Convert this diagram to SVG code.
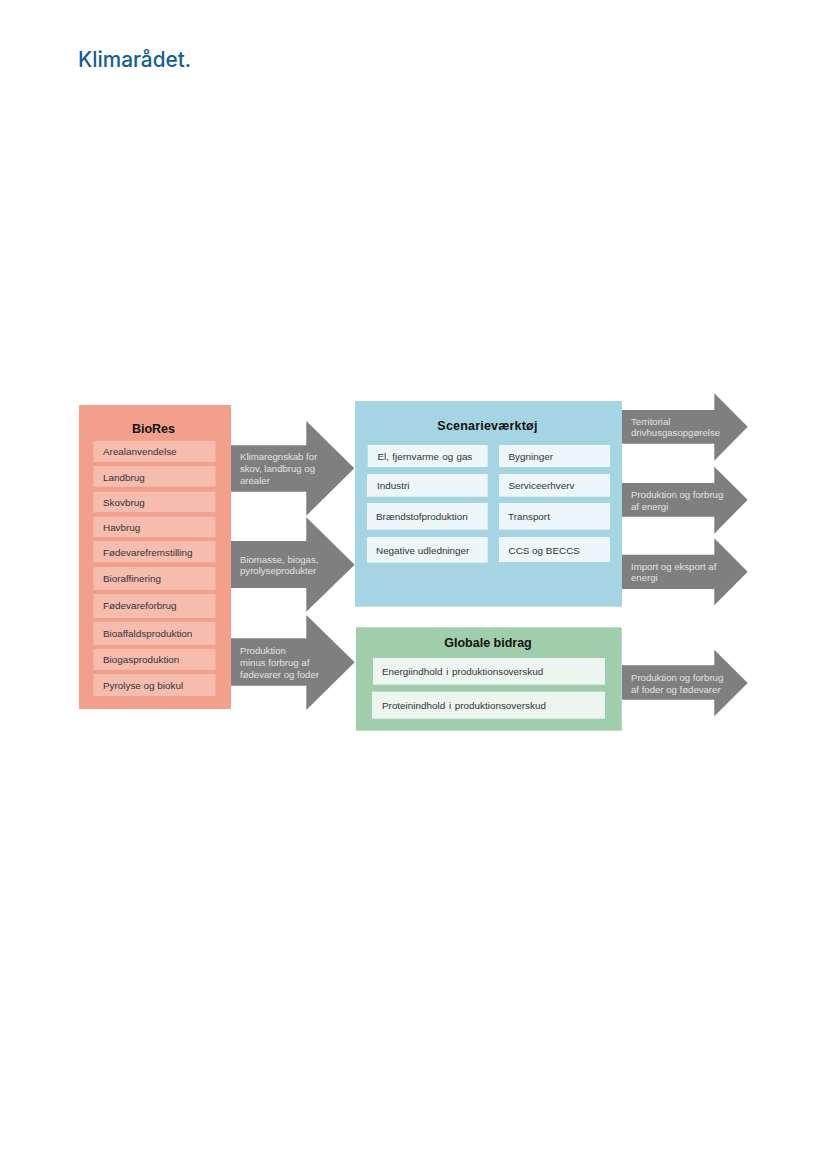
<svg xmlns="http://www.w3.org/2000/svg" width="827" height="1169" viewBox="0 0 827 1169">
<style>
text{font-family:"Liberation Sans",Arial,sans-serif}
.t{font-size:9.9px;fill:#333}
.h{font-size:12.5px;font-weight:700;fill:#111;text-anchor:middle}
.a{font-size:9.6px;fill:#e2e2e2}
.ar{fill:#7f7f7f}
.s{fill:#f6bcae}
.b{fill:#edf6f9}
.g{fill:#ecf5ef}
</style>
<rect width="827" height="1169" fill="#fff"/>
<text id="logo" x="78" y="67" font-size="21" font-weight="500" fill="#0f5f96" style="font-family:Inter,sans-serif" textLength="113" lengthAdjust="spacingAndGlyphs">Klimarådet.</text>
<g id="bio"><rect x="79" y="405" width="152" height="304" fill="#f2a08b"/>
<text class="h" x="153.5" y="433">BioRes</text></g>
<g id="n-areal"><rect class="s" x="93.5" y="441" width="122" height="21"/><text class="t" x="103" y="455">Arealanvendelse</text></g>
<g id="n-land"><rect class="s" x="93.5" y="466" width="122" height="20.7"/><text class="t" x="103" y="480.5">Landbrug</text></g>
<g id="n-skov"><rect class="s" x="93.5" y="491.7" width="122" height="20.6"/><text class="t" x="103" y="505.5">Skovbrug</text></g>
<g id="n-hav"><rect class="s" x="93.5" y="516.7" width="122" height="20.6"/><text class="t" x="103" y="530.5">Havbrug</text></g>
<g id="n-fremst"><rect class="s" x="93.5" y="541" width="122" height="21.3"/><text class="t" x="103" y="555.5">Fødevarefremstilling</text></g>
<g id="n-raff"><rect class="s" x="93.5" y="567" width="122" height="23"/><text class="t" x="103" y="582">Bioraffinering</text></g>
<g id="n-forbrug"><rect class="s" x="93.5" y="594" width="122" height="24"/><text class="t" x="103" y="609">Fødevareforbrug</text></g>
<g id="n-affald"><rect class="s" x="93.5" y="621.7" width="122" height="23.3"/><text class="t" x="103" y="637">Bioaffaldsproduktion</text></g>
<g id="n-biogas"><rect class="s" x="93.5" y="649" width="122" height="21"/><text class="t" x="103" y="663">Biogasproduktion</text></g>
<g id="n-pyro"><rect class="s" x="93.5" y="674" width="122" height="22"/><text class="t" x="103" y="688.5">Pyrolyse og biokul</text></g>

<g id="scen"><rect x="355" y="401" width="267" height="205.7" fill="#a5d5e3"/>
<text class="h" x="487.5" y="430" letter-spacing="0.2">Scenarieværktøj</text></g>
<g id="n-el"><rect class="b" x="367.7" y="445" width="120" height="22"/><text class="t" x="377.5" y="459.5" word-spacing="0.5">El, fjernvarme og gas</text></g>
<g id="n-byg"><rect class="b" x="499" y="445" width="111" height="22"/><text class="t" x="508.5" y="459.5">Bygninger</text></g>
<g id="n-ind"><rect class="b" x="367" y="474" width="120.7" height="22.7"/><text class="t" x="377" y="489">Industri</text></g>
<g id="n-serv"><rect class="b" x="499" y="474" width="111" height="22.7"/><text class="t" x="508.5" y="489">Serviceerhverv</text></g>
<g id="n-braend"><rect class="b" x="367" y="503" width="120.7" height="26.7"/><text class="t" x="376" y="520">Brændstofproduktion</text></g>
<g id="n-trans"><rect class="b" x="499" y="503" width="111" height="26.7"/><text class="t" x="508" y="520">Transport</text></g>
<g id="n-neg"><rect class="b" x="367" y="537" width="120.7" height="25.7"/><text class="t" x="376" y="553.5">Negative udledninger</text></g>
<g id="n-ccs"><rect class="b" x="499" y="537" width="111" height="25"/><text class="t" x="508.5" y="553.5">CCS og BECCS</text></g>

<g id="glob"><rect x="356" y="627.3" width="265.7" height="103.4" fill="#a0cdab"/>
<text class="h" x="488" y="647">Globale bidrag</text></g>
<g id="n-en"><rect class="g" x="373" y="658" width="232" height="26.7"/><text class="t" x="382" y="675" word-spacing="1">Energiindhold i produktionsoverskud</text></g>
<g id="n-pr"><rect class="g" x="372" y="691.7" width="233" height="27"/><text class="t" x="382" y="708.5" word-spacing="1">Proteinindhold i produktionsoverskud</text></g>

<g id="connectors">
<polygon class="ar" points="231,445.3 306.3,445.3 306.3,421 354.3,468.3 306.3,515.7 306.3,491.7 231,491.7"/>
<polygon class="ar" points="231,541 306.3,541 306.3,517.3 354.7,564.7 306.3,611.7 306.3,588 231,588"/>
<polygon class="ar" points="231,638.3 306.3,638.3 306.3,615 354.7,662.3 306.3,710 306.3,685.7 231,685.7"/>
<polygon class="ar" points="622,410 714.3,410 714.3,393.3 747.7,426.7 714.3,460.7 714.3,443.7 622,443.7"/>
<polygon class="ar" points="622,483 714.3,483 714.3,466.7 747.7,499.7 714.3,533.7 714.3,516.7 622,516.7"/>
<polygon class="ar" points="622,554.7 714.3,554.7 714.3,538.3 747.7,571.7 714.3,605.3 714.3,589 622,589"/>
<polygon class="ar" points="622,665.3 714.3,665.3 714.3,649.7 747.7,683 714.3,716.3 714.3,699.7 622,699.7"/>
<text class="a" x="240" y="460">Klimaregnskab for</text>
<text class="a" x="240" y="472">skov, landbrug og</text>
<text class="a" x="240" y="483.5">arealer</text>
<text class="a" x="240" y="562.5">Biomasse, biogas,</text>
<text class="a" x="240" y="574">pyrolyseprodukter</text>
<text class="a" x="240" y="654">Produktion</text>
<text class="a" x="240" y="666">minus forbrug af</text>
<text class="a" x="240" y="677.5">fødevarer og foder</text>
<text class="a" x="631" y="424.5">Territorial</text>
<text class="a" x="631" y="436">drivhusgasopgørelse</text>
<text class="a" x="631" y="498">Produktion og forbrug</text>
<text class="a" x="631" y="510">af energi</text>
<text class="a" x="631" y="569.5">Import og eksport af</text>
<text class="a" x="631" y="581">energi</text>
<text class="a" x="631" y="681">Produktion og forbrug</text>
<text class="a" x="631" y="692.5">af foder og fødevarer</text>
</g>
</svg>
